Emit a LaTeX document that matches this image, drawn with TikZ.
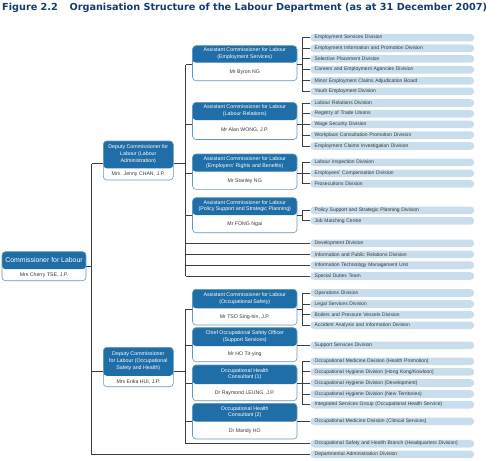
\documentclass[tikz,border=0pt]{standalone}
\usepackage{fontspec}
\setmainfont{Liberation Sans}
\newfontfamily\ldTitleFont{DejaVu Sans}
\usetikzlibrary{positioning,calc}
\definecolor{ldBlue}{HTML}{1F6EA7}
\definecolor{ldLightBlue}{HTML}{C8DEEC}
\definecolor{ldNavy}{HTML}{173D6D}
\definecolor{ldGrey}{HTML}{3E3E3E}
\definecolor{ldText}{HTML}{383838}
\tikzset{
    ldBox/.style={
        draw=ldBlue!70,
        fill=white,
        rounded corners=3.5pt,
        line width=0.6pt,
        inner sep=0pt,
        minimum width=104.5pt,
        minimum height=35pt,
        path picture={\fill[ldBlue] (path picture bounding box.north west)
            rectangle ([yshift=-#1]path picture bounding box.north east);}
    },
    ldHead/.style={
        text=white,
        align=center,
        inner sep=0pt,
        font=\fontsize{5.3}{6.8}\selectfont
    },
    ldName/.style={
        text=ldText,
        inner sep=0pt,
        font=\fontsize{5.2}{6}\selectfont
    },
    ldDiv/.style={
        fill=ldLightBlue,
        rounded corners=3.8pt,
        minimum height=7.6pt,
        text width=155pt,
        inner xsep=4.5pt,
        inner ysep=0pt,
        align=left,
        anchor=west,
        text=ldText,
        font=\fontsize{5.0}{5.6}\selectfont
    },
    ldLine/.style={draw=ldGrey,line width=0.9pt}
}

\begin{document}
\begin{tikzpicture}[x=1pt,y=-1pt]
    \useasboundingbox (0,0) rectangle (500,460);

    \node[anchor=west,inner sep=0pt,text=ldNavy,font=\ldTitleFont\fontsize{9.7}{11}\selectfont\bfseries] (title) at (2,7.5)
        {Figure 2.2\hspace{1.2em}Organisation Structure of the Labour Department (as at 31 December 2007)};

    % officers
    \node[ldBox=17.5pt,minimum width=84pt,minimum height=29pt] (com) at (44,266.2) {};
    \node[ldHead,font=\fontsize{6.9}{8}\selectfont] (comT) at ([yshift=-8.75pt]com.north) {Commissioner for Labour};
    \node[ldName] (comN) at ([yshift=5.75pt]com.south) {Mrs Cherry TSE, J.P.};

    \node[ldBox=27.3pt,minimum width=70pt,minimum height=39pt] (dca) at (138.3,160.5) {};
    \node[ldHead] (dcaT) at ([yshift=-13.65pt]dca.north) {Deputy Commissioner for\\Labour (Labour\\Administration)};
    \node[ldName] (dcaN) at ([yshift=5.85pt]dca.south) {Mrs. Jenny CHAN, J.P.};

    \node[ldBox=28.5pt,minimum width=70pt,minimum height=39.4pt] (dcb) at (138.3,367) {};
    \node[ldHead] (dcbT) at ([yshift=-14.25pt]dcb.north) {Deputy Commissioner\\for Labour (Occupational\\Safety and Health)};
    \node[ldName] (dcbN) at ([yshift=5.45pt]dcb.south) {Mrs Erika HUI, J.P.};

    \node[ldBox=17pt] (acES) at (244.75,63.2) {};
    \node[ldHead] (acEST) at ([yshift=-8.5pt]acES.north) {Assistant Commissioner for Labour\\(Employment Services)};
    \node[ldName] (acESN) at ([yshift=9pt]acES.south) {Mr Byron NG};

    \node[ldBox=17.5pt,minimum height=37pt] (acLR) at (244.75,121) {};
    \node[ldHead] (acLRT) at ([yshift=-8.75pt]acLR.north) {Assistant Commissioner for Labour\\(Labour Relations)};
    \node[ldName] (acLRN) at ([yshift=9.75pt]acLR.south) {Mr Alan WONG, J.P.};

    \node[ldBox=17.7pt,minimum height=35.3pt] (acERB) at (244.75,171.65) {};
    \node[ldHead] (acERBT) at ([yshift=-8.85pt]acERB.north) {Assistant Commissioner for Labour\\(Employers’ Rights and Benefits)};
    \node[ldName] (acERBN) at ([yshift=8.8pt]acERB.south) {Mr Stanley NG};

    \node[ldBox=17.3pt] (acPSP) at (244.75,215.2) {};
    \node[ldHead] (acPSPT) at ([yshift=-8.65pt]acPSP.north) {Assistant Commissioner for Labour\\(Policy Support and Strategic Planning)};
    \node[ldName] (acPSPN) at ([yshift=8.85pt]acPSP.south) {Mr FONG Ngai};

    \node[ldBox=19pt,minimum height=35.7pt] (acOS) at (244.75,307.15) {};
    \node[ldHead] (acOST) at ([yshift=-9.5pt]acOS.north) {Assistant Commissioner for Labour\\(Occupational Safety)};
    \node[ldName] (acOSN) at ([yshift=8.35pt]acOS.south) {Mr TSO Sing-hin, J.P.};

    \node[ldBox=18.3pt,minimum height=34pt] (coso) at (244.75,344.7) {};
    \node[ldHead] (cosoT) at ([yshift=-9.15pt]coso.north) {Chief Occupational Safety Officer\\(Support Services)};
    \node[ldName] (cosoN) at ([yshift=7.85pt]coso.south) {Mr HO Tit-ying};

    \node[ldBox=19pt,minimum height=35.7pt] (ohcA) at (244.75,382.85) {};
    \node[ldHead] (ohcAT) at ([yshift=-9.5pt]ohcA.north) {Occupational Health\\Consultant (1)};
    \node[ldName] (ohcAN) at ([yshift=8.35pt]ohcA.south) {Dr Raymond LEUNG, J.P.};

    \node[ldBox=18.4pt,minimum height=35.7pt] (ohcB) at (244.75,421.15) {};
    \node[ldHead] (ohcBT) at ([yshift=-9.2pt]ohcB.north) {Occupational Health\\Consultant (2)};
    \node[ldName] (ohcBN) at ([yshift=8.65pt]ohcB.south) {Dr Mandy HO};

    % divisions
    \foreach \y/\t [count=\i] in {37.7/Employment Services Division,
            48.3/Employment Information and Promotion Division,
            58.9/Selective Placement Division,
            69.7/Careers and Employment Agencies Division,
            80.8/Minor Employment Claims Adjudication Board,
            91.3/Youth Employment Division}
        \node[ldDiv] (es\i) at (310,\y) {\t};
    \foreach \y/\t [count=\i] in {103/Labour Relations Division,
            113.7/Registry of Trade Unions,
            124.4/Wage Security Division,
            135.1/Workplace Consultation Promotion Division,
            146/Employment Claims Investigation Division}
        \node[ldDiv] (lr\i) at (310,\y) {\t};
    \foreach \y/\t [count=\i] in {162.4/Labour Inspection Division,
            173.3/Employees’ Compensation Division,
            183.8/Prosecutions Division}
        \node[ldDiv] (erb\i) at (310,\y) {\t};
    \foreach \y/\t [count=\i] in {210.3/Policy Support and Strategic Planning Division,
            220.8/Job Matching Centre}
        \node[ldDiv] (psp\i) at (310,\y) {\t};
    \node[ldDiv] (dev) at (310,243.3) {Development Division};
    \node[ldDiv] (ipr) at (310,254.3) {Information and Public Relations Division};
    \node[ldDiv] (itm) at (310,265.2) {Information Technology Management Unit};
    \node[ldDiv] (sdt) at (310,276) {Special Duties Team};
    \foreach \y/\t [count=\i] in {293/Operations Division,
            304/Legal Services Division,
            314.7/Boilers and Pressure Vessels Division,
            325.3/Accident Analysis and Information Division}
        \node[ldDiv] (os\i) at (310,\y) {\t};
    \node[ldDiv] (ss) at (310,345.3) {Support Services Division};
    \foreach \y/\t [count=\i] in {361.3/Occupational Medicine Division (Health Promotion),
            371.9/{Occupational Hygiene Division (Hong Kong/Kowloon)},
            383/Occupational Hygiene Division (Development),
            394/Occupational Hygiene Division (New Territories),
            404.7/Integrated Services Group (Occupational Health Service)}
        \node[ldDiv] (ohm\i) at (310,\y) {\t};
    \node[ldDiv] (ocs) at (310,421.3) {Occupational Medicine Division (Clinical Services)};
    \node[ldDiv] (oshb) at (310,443.7) {Occupational Safety and Health Branch (Headquarters Division)};
    \node[ldDiv] (dad) at (310,454.3) {Departmental Administration Division};

    % buses
    \coordinate (comBus) at (91.7,0);
    \coordinate (dcaBus) at (185.5,0);
    \coordinate (dcbBus) at (185.5,0);
    \coordinate (dcaJoinL) at ([yshift=-3pt]dca.west);
    \coordinate (dcaJoinR) at ([yshift=-3pt]dca.east);
    \coordinate (dcbJoinL) at ([yshift=-4pt]dcb.west);
    \coordinate (dcbJoinR) at ([yshift=-4pt]dcb.east);
    \coordinate (esMid) at ($(es1.west)!0.5!(es6.west)$);
    \coordinate (lrMid) at ($(lr1.west)!0.5!(lr5.west)$);
    \coordinate (erbMid) at ($(erb1.west)!0.5!(erb3.west)$);
    \coordinate (pspMid) at ($(psp1.west)!0.5!(psp2.west)$);
    \coordinate (osMid) at ($(os1.west)!0.5!(os4.west)$);
    \coordinate (ohmMid) at ($(ohm1.west)!0.5!(ohm5.west)$);

    % commissioner level
    \draw[ldLine] (com.east) -- (com.east -| comBus);
    \draw[ldLine] (dcaJoinL -| comBus) -- (comBus |- dad.west) -- (dad.west);
    \draw[ldLine] (dcaJoinL -| comBus) -- (dcaJoinL);
    \draw[ldLine] (dcbJoinL -| comBus) -- (dcbJoinL);

    % deputy commissioner (labour administration)
    \draw[ldLine] (dcaJoinR) -- (dcaJoinR -| dcaBus);
    \draw[ldLine] (dcaBus |- esMid) -- (dcaBus |- sdt.west);
    \draw[ldLine] (dcaBus |- esMid) -- (acES.west |- esMid);
    \draw[ldLine] (dcaBus |- lrMid) -- (acLR.west |- lrMid);
    \draw[ldLine] (dcaBus |- erbMid) -- (acERB.west |- erbMid);
    \draw[ldLine] (dcaBus |- pspMid) -- (acPSP.west |- pspMid);
    \draw[ldLine] (dcaBus |- dev.west) -- (dev.west);
    \draw[ldLine] (dcaBus |- ipr.west) -- (ipr.west);
    \draw[ldLine] (dcaBus |- itm.west) -- (itm.west);
    \draw[ldLine] (dcaBus |- sdt.west) -- (sdt.west);

    % deputy commissioner (occupational safety and health)
    \draw[ldLine] (dcbJoinR) -- (dcbJoinR -| dcbBus);
    \draw[ldLine] (dcbBus |- osMid) -- (dcbBus |- oshb.west);
    \draw[ldLine] (dcbBus |- osMid) -- (acOS.west |- osMid);
    \draw[ldLine] (dcbBus |- ss.west) -- (coso.west |- ss.west);
    \draw[ldLine] (dcbBus |- ohmMid) -- (ohcA.west |- ohmMid);
    \draw[ldLine] (dcbBus |- ocs.west) -- (ohcB.west |- ocs.west);
    \draw[ldLine] (dcbBus |- oshb.west) -- (oshb.west);

    % brackets to divisions
    \draw[ldLine] (acES.east |- esMid) -- ([xshift=-8pt]es1.west |- esMid);
    \draw[ldLine] ([xshift=-8pt]es1.west) -- ([xshift=-8pt]es6.west);
    \foreach \i in {1,...,6} \draw[ldLine] (es\i.west) -- ++(-8,0);
    \draw[ldLine] (acLR.east |- lrMid) -- ([xshift=-8pt]lr1.west |- lrMid);
    \draw[ldLine] ([xshift=-8pt]lr1.west) -- ([xshift=-8pt]lr5.west);
    \foreach \i in {1,...,5} \draw[ldLine] (lr\i.west) -- ++(-8,0);
    \draw[ldLine] (acERB.east |- erbMid) -- ([xshift=-8pt]erb1.west |- erbMid);
    \draw[ldLine] ([xshift=-8pt]erb1.west) -- ([xshift=-8pt]erb3.west);
    \foreach \i in {1,...,3} \draw[ldLine] (erb\i.west) -- ++(-8,0);
    \draw[ldLine] (acPSP.east |- pspMid) -- ([xshift=-8pt]psp1.west |- pspMid);
    \draw[ldLine] ([xshift=-8pt]psp1.west) -- ([xshift=-8pt]psp2.west);
    \foreach \i in {1,2} \draw[ldLine] (psp\i.west) -- ++(-8,0);
    \draw[ldLine] (acOS.east |- osMid) -- ([xshift=-8pt]os1.west |- osMid);
    \draw[ldLine] ([xshift=-8pt]os1.west) -- ([xshift=-8pt]os4.west);
    \foreach \i in {1,...,4} \draw[ldLine] (os\i.west) -- ++(-8,0);
    \draw[ldLine] (coso.east |- ss.west) -- (ss.west);
    \draw[ldLine] (ohcA.east |- ohmMid) -- ([xshift=-8pt]ohm1.west |- ohmMid);
    \draw[ldLine] ([xshift=-8pt]ohm1.west) -- ([xshift=-8pt]ohm5.west);
    \foreach \i in {1,...,5} \draw[ldLine] (ohm\i.west) -- ++(-8,0);
    \draw[ldLine] (ohcB.east |- ocs.west) -- (ocs.west);
\end{tikzpicture}
\end{document}
